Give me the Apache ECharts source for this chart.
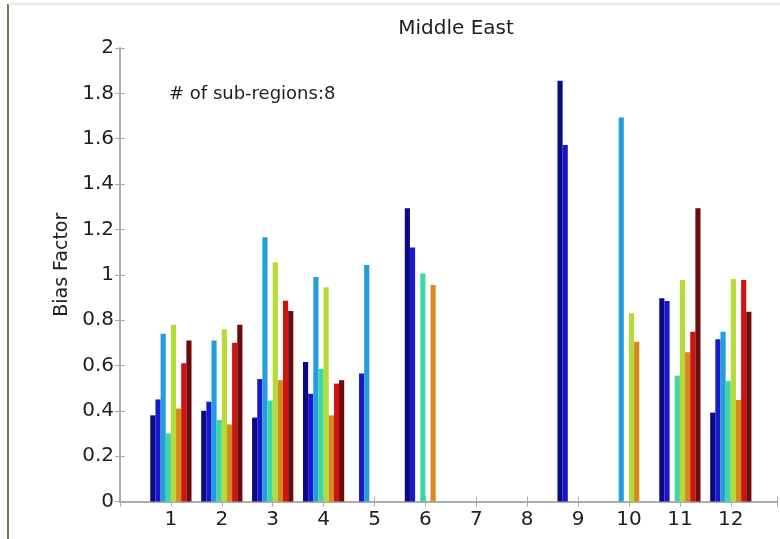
<!DOCTYPE html>
<html>
<head>
<meta charset="utf-8">
<script src="https://cdn.jsdelivr.net/npm/echarts@6/dist/echarts.min.js"></script>
<style>html,body{margin:0;padding:0;background:#fff}#c{width:780px;height:539px}</style>
</head>
<body>
<div id="c"></div>
<script>
// ---- data ----
const months = ['1','2','3','4','5','6','7','8','9','10','11','12'];
const seriesNames = ['Sub-region 1','Sub-region 2','Sub-region 3','Sub-region 4','Sub-region 5','Sub-region 6','Sub-region 7','Sub-region 8'];
const sub1 = [0.38, 0.40, 0.37, 0.615, 0, 1.293, 0, 0, 1.856, 0, 0.896, 0.392];
const sub2 = [0.45, 0.44, 0.54, 0.475, 0.565, 1.12, 0, 0, 1.572, 0, 0.884, 0.715];
const sub3 = [0.74, 0.71, 1.165, 0.99, 1.043, 0, 0, 0, 0, 1.693, 0, 0.749];
const sub4 = [0.30, 0.36, 0.445, 0.585, 0, 1.006, 0, 0, 0, 0, 0.555, 0.531];
const sub5 = [0.78, 0.76, 1.055, 0.945, 0, 0, 0, 0, 0, 0.83, 0.977, 0.981];
const sub6 = [0.41, 0.34, 0.535, 0.38, 0, 0.955, 0, 0, 0, 0.705, 0.658, 0.448];
const sub7 = [0.61, 0.70, 0.885, 0.52, 0, 0, 0, 0, 0, 0, 0.749, 0.977];
const sub8 = [0.71, 0.78, 0.84, 0.535, 0, 0, 0, 0, 0, 0, 1.293, 0.837];
const yTickLabels = ['0','0.2','0.4','0.6','0.8','1','1.2','1.4','1.6','1.8','2'];
const titleText = 'Middle East';
const yAxisTitle = 'Bias Factor';
const noteText = '# of sub-regions:8';

(function () {
const allSeries = [sub1, sub2, sub3, sub4, sub5, sub6, sub7, sub8];
const colors = ['#0a0a82','#1818cc','#249edb','#3fd6a6','#b6da38','#d48a1c','#cf1212','#6e0c0c'];

const font = 'DejaVu Sans';
const axisCol = '#a8a8a8';
const textCol = '#1e1e1e';

const chart = echarts.init(document.getElementById('c'), null, {renderer:'canvas'});
const unit = 50.9;
const frameL = 120, frameR = 777, gTop = 48, gBottom = 37.5;
const xMax = (frameR - frameL) / unit;
const barL = frameL + unit / 2;
const barR = barL + 12 * unit;

const option = {
  backgroundColor: '#fff',
  animation: false,
  title: {
    text: titleText, left: 451, top: 14, textAlign: 'center',
    textStyle: {fontFamily: font, fontSize: 20, fontWeight: 'normal', color: textCol}
  },
  grid: [
    {left: barL, right: 780 - barR, top: gTop, bottom: gBottom},
    {left: frameL, right: 780 - frameR, top: gTop, bottom: gBottom}
  ],
  xAxis: [
    {type: 'category', gridIndex: 0, data: months, show: false},
    {type: 'value', gridIndex: 1, min: 0, max: xMax, interval: 1, position: 'bottom',
     axisLine: {show: true, lineStyle: {color: axisCol, width: 1.5}},
     axisTick: {show: true, inside: true, length: 5, lineStyle: {color: axisCol}},
     splitLine: {show: false},
     axisLabel: {show: true, margin: 8, fontFamily: font, fontSize: 20, color: textCol,
       showMinLabel: true, showMaxLabel: true,
       formatter: v => (Math.abs(v - Math.round(v)) < 1e-6 && v >= 1 && v <= 12) ? months[Math.round(v) - 1] : ''}},
    {type: 'value', gridIndex: 1, min: 0, max: xMax, interval: 1, position: 'top',
     axisLine: {show: true, lineStyle: {color: axisCol, width: 1.5}},
     axisTick: {show: true, inside: true, length: 5, lineStyle: {color: axisCol}},
     splitLine: {show: false}, axisLabel: {show: false}}
  ],
  yAxis: [
    {type: 'value', gridIndex: 0, min: 0, max: 2, show: false},
    {type: 'value', gridIndex: 1, min: 0, max: 2, interval: 0.2, position: 'left',
     name: yAxisTitle, nameLocation: 'middle', nameGap: 46, nameRotate: 90,
     nameTextStyle: {fontFamily: font, fontSize: 19, color: textCol, padding: [0,0,0,20]},
     axisLine: {show: true, lineStyle: {color: axisCol, width: 1.5}},
     axisTick: {show: true, inside: true, length: 5, lineStyle: {color: axisCol}},
     splitLine: {show: false},
     axisLabel: {margin: 6, fontFamily: font, fontSize: 20, color: textCol,
       formatter: (v, i) => yTickLabels[i] !== undefined ? yTickLabels[i] : String(v)}},
    {type: 'value', gridIndex: 1, min: 0, max: 2, interval: 0.2, position: 'right',
     axisLine: {show: true, lineStyle: {color: axisCol, width: 1.5}},
     axisTick: {show: true, inside: true, length: 5, lineStyle: {color: axisCol}},
     splitLine: {show: false}, axisLabel: {show: false}}
  ],
  series: allSeries.map((d, i) => ({
    type: 'bar', name: seriesNames[i], xAxisIndex: 0, yAxisIndex: 0,
    data: d, barGap: '0%', barCategoryGap: '19%',
    itemStyle: {color: colors[i]}
  })),
  graphic: [
    {type: 'line', shape: {x1: 8, y1: 4, x2: 8, y2: 539}, style: {stroke: '#7a7258', lineWidth: 2}},
    {type: 'line', shape: {x1: 8, y1: 4, x2: 780, y2: 4}, style: {stroke: '#e4e4d2', lineWidth: 1.5}},
    {type: 'text', left: 169, top: 85, style: {text: noteText, font: '18px "DejaVu Sans"', fill: textCol}}
  ]
};
chart.setOption(option);
})();
</script>
</body>
</html>
